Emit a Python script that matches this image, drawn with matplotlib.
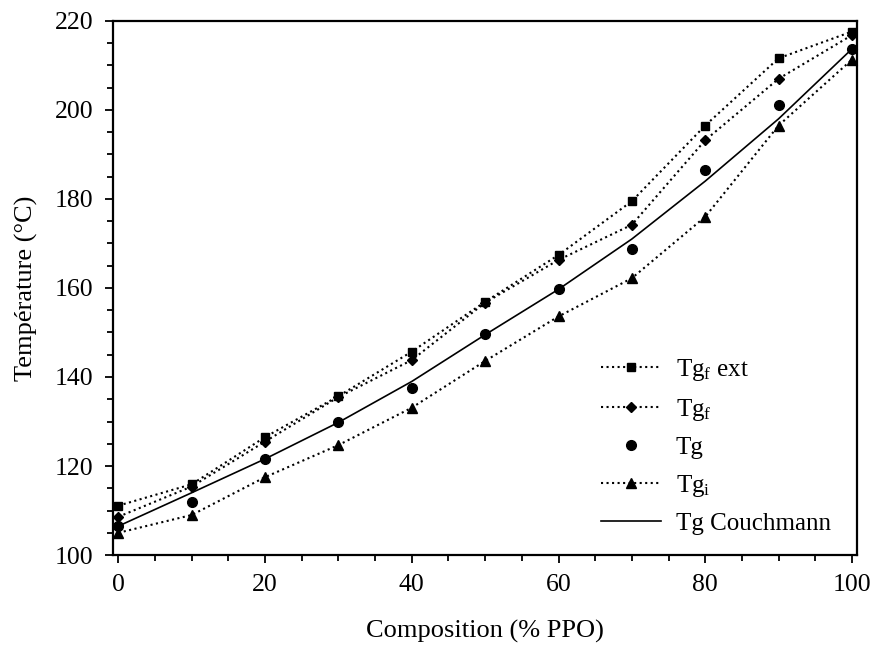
import numpy as np
import matplotlib
matplotlib.use("Agg")
import matplotlib.pyplot as plt
from matplotlib.ticker import MultipleLocator

plt.rcParams['font.family'] = ['Liberation Serif', 'DejaVu Serif']
plt.rcParams['mathtext.fontset'] = 'custom'
plt.rcParams['mathtext.rm'] = 'Liberation Serif'
plt.rcParams['mathtext.it'] = 'Liberation Serif:italic'

# Composition (% PPO)
comp = [0, 10, 20, 30, 40, 50, 60, 70, 80, 90, 100]

# Temperatures (°C)
tgf_ext = [111.1, 115.9, 126.5, 135.7, 145.7, 156.9, 167.4, 179.5, 196.5, 211.6, 217.6]
tgf = [108.6, 115.4, 125.5, 135.5, 143.8, 156.7, 166.3, 174.2, 193.2, 207.0, 216.8]
tg = [106.5, 112.0, 121.6, 129.8, 137.5, 149.7, 159.7, 168.7, 186.4, 201.1, 213.7]
tgi = [105.0, 109.0, 117.5, 124.7, 133.1, 143.6, 153.6, 162.2, 176.0, 196.5, 211.3]
tg_couchmann = [106.5, 114.0, 121.6, 129.8, 139.0, 149.5, 159.7, 171.0, 184.0, 198.0, 213.7]

fig = plt.figure(figsize=(8.71, 6.53), dpi=100)
ax = fig.add_axes([0.130, 0.150, 0.854, 0.818])

ax.plot(comp, tgf_ext, ls=':', lw=1.5, color='black', marker='s', ms=6,
        label=r'Tg$_\mathrm{f}$ ext', clip_on=False)
ax.plot(comp, tgf, ls=':', lw=1.5, color='black', marker='D', ms=5.5,
        label=r'Tg$_\mathrm{f}$', clip_on=False)
ax.plot(comp, tg, ls='none', color='black', marker='o', ms=7,
        label='Tg', clip_on=False)
ax.plot(comp, tgi, ls=':', lw=1.5, color='black', marker='^', ms=6.5,
        label=r'Tg$_\mathrm{i}$', clip_on=False)
ax.plot(comp, tg_couchmann, ls='-', lw=1.2, color='black',
        label='Tg Couchmann', clip_on=False)

ax.set_xlim(-0.7, 100.7)
ax.set_ylim(100, 220)
ax.xaxis.set_major_locator(MultipleLocator(20))
ax.xaxis.set_minor_locator(MultipleLocator(5))
ax.yaxis.set_major_locator(MultipleLocator(20))
ax.yaxis.set_minor_locator(MultipleLocator(5))
ax.tick_params(which='both', direction='out', top=False, right=False,
               labelsize=18.5, width=1.3, pad=8)
ax.tick_params(which='major', length=6)
ax.tick_params(which='minor', length=4)
for s in ax.spines.values():
    s.set_linewidth(1.6)

ax.set_xlabel('Composition (% PPO)', fontsize=19, labelpad=17)
ax.set_ylabel('Température (°C)', fontsize=19, labelpad=12)

ax.legend(loc='lower right', bbox_to_anchor=(0.995, -0.005), frameon=False,
          fontsize=18, handlelength=2.4, labelspacing=0.55, handletextpad=0.6)

fig.savefig('out.png', dpi=100)
